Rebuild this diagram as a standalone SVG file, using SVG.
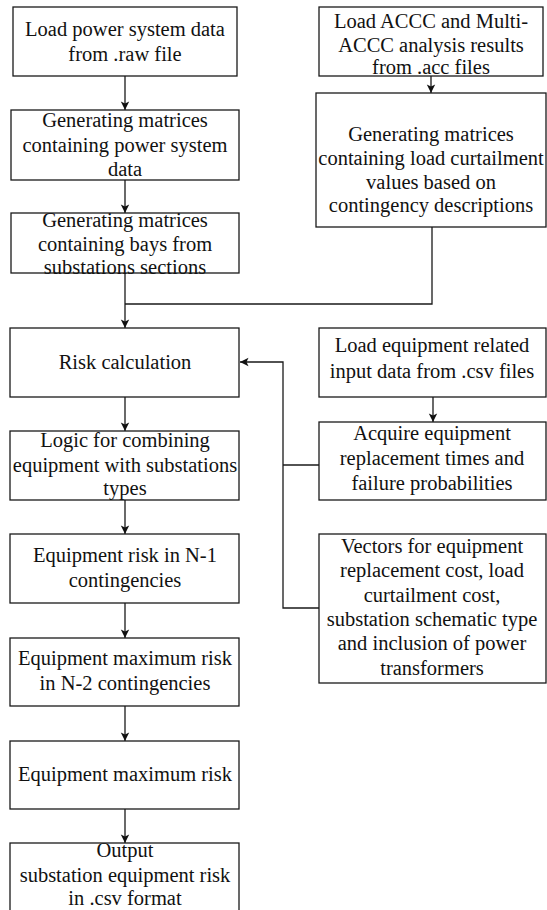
<svg xmlns="http://www.w3.org/2000/svg" width="547" height="910" viewBox="0 0 547 910">
  <style>
    .box { fill: #ffffff; stroke: #1a1a1a; stroke-width: 1.3; }
    .lbl { font-family: "Liberation Serif", "Times New Roman", serif; font-size: 20.5px; fill: #111111; text-anchor: middle; }
    .wire { fill: none; stroke: #1a1a1a; stroke-width: 1.3; }
  </style>
  <defs>
    <marker id="arrow" markerUnits="userSpaceOnUse" markerWidth="10" markerHeight="10" viewBox="-9 -5 10 10" refX="0" refY="0" orient="auto">
      <path d="M -8.5 -4.2 L 0 0 L -8.5 4.2 L -6.5 0 Z" fill="#111111"/>
    </marker>
  </defs>
  <rect width="547" height="910" fill="#ffffff"/>

  <!-- connectors -->
  <g id="connectors">
    <path class="wire" d="M 125 76 V 110" marker-end="url(#arrow)"/>
    <path class="wire" d="M 125 180 V 213" marker-end="url(#arrow)"/>
    <path class="wire" d="M 125 273 V 328" marker-end="url(#arrow)"/>
    <path class="wire" d="M 432 227 V 304 H 125"/>
    <path class="wire" d="M 125 397 V 431" marker-end="url(#arrow)"/>
    <path class="wire" d="M 125 500 V 534" marker-end="url(#arrow)"/>
    <path class="wire" d="M 125 603 V 638" marker-end="url(#arrow)"/>
    <path class="wire" d="M 125 706 V 741" marker-end="url(#arrow)"/>
    <path class="wire" d="M 125 809 V 843" marker-end="url(#arrow)"/>
    <path class="wire" d="M 431 76 V 93" marker-end="url(#arrow)"/>
    <path class="wire" d="M 433 397 V 422" marker-end="url(#arrow)"/>
    <path class="wire" d="M 319 465 H 283"/>
    <path class="wire" d="M 319 608 H 283 V 362 H 240" marker-end="url(#arrow)"/>
  </g>

  <!-- left column -->
  <g id="load-raw">
    <rect class="box" x="13" y="7" width="224" height="69"/>
    <text class="lbl" x="125" y="36">Load power system data</text>
    <text class="lbl" x="125" y="61">from .raw file</text>
  </g>
  <g id="matrices-power">
    <rect class="box" x="11" y="110" width="228" height="70"/>
    <text class="lbl" x="125" y="127">Generating matrices</text>
    <text class="lbl" x="125" y="152">containing power system</text>
    <text class="lbl" x="125" y="176">data</text>
  </g>
  <g id="matrices-bays">
    <rect class="box" x="11" y="213" width="228" height="60"/>
    <text class="lbl" x="125" y="227">Generating matrices</text>
    <text class="lbl" x="125" y="250.5">containing bays from</text>
    <text class="lbl" x="125" y="274">substations sections</text>
  </g>
  <g id="risk-calc">
    <rect class="box" x="10" y="328" width="229" height="69"/>
    <text class="lbl" x="125" y="369">Risk calculation</text>
  </g>
  <g id="logic">
    <rect class="box" x="10" y="431" width="229" height="69"/>
    <text class="lbl" x="125" y="447">Logic for combining</text>
    <text class="lbl" x="125" y="472">equipment with substations</text>
    <text class="lbl" x="125" y="495">types</text>
  </g>
  <g id="risk-n1">
    <rect class="box" x="10" y="534" width="229" height="69"/>
    <text class="lbl" x="125" y="562">Equipment risk in N-1</text>
    <text class="lbl" x="125" y="587">contingencies</text>
  </g>
  <g id="risk-n2">
    <rect class="box" x="10" y="638" width="229" height="68"/>
    <text class="lbl" x="125" y="665">Equipment maximum risk</text>
    <text class="lbl" x="125" y="690">in N-2 contingencies</text>
  </g>
  <g id="max-risk">
    <rect class="box" x="10" y="741" width="229" height="68"/>
    <text class="lbl" x="125" y="781">Equipment maximum risk</text>
  </g>
  <g id="output">
    <rect class="box" x="10" y="843" width="229" height="75"/>
    <text class="lbl" x="125" y="857">Output</text>
    <text class="lbl" x="125" y="882">substation equipment risk</text>
    <text class="lbl" x="125" y="905">in .csv format</text>
  </g>

  <!-- right column -->
  <g id="load-acc">
    <rect class="box" x="319" y="7" width="224" height="69"/>
    <text class="lbl" x="431" y="28">Load ACCC and Multi-</text>
    <text class="lbl" x="431" y="52">ACCC analysis results</text>
    <text class="lbl" x="431" y="74">from .acc files</text>
  </g>
  <g id="matrices-curtailment">
    <rect class="box" x="316" y="93" width="230" height="134"/>
    <text class="lbl" x="431" y="141">Generating matrices</text>
    <text class="lbl" x="431" y="165">containing load curtailment</text>
    <text class="lbl" x="431" y="189">values based on</text>
    <text class="lbl" x="431" y="212">contingency descriptions</text>
  </g>
  <g id="load-csv">
    <rect class="box" x="319" y="328" width="227" height="69"/>
    <text class="lbl" x="432" y="352">Load equipment related</text>
    <text class="lbl" x="432" y="378">input data from .csv files</text>
  </g>
  <g id="acquire">
    <rect class="box" x="319" y="422" width="227" height="78"/>
    <text class="lbl" x="432" y="440">Acquire equipment</text>
    <text class="lbl" x="432" y="465">replacement times and</text>
    <text class="lbl" x="432" y="490">failure probabilities</text>
  </g>
  <g id="vectors">
    <rect class="box" x="319" y="534" width="227" height="149"/>
    <text class="lbl" x="432" y="553">Vectors for equipment</text>
    <text class="lbl" x="432" y="577">replacement cost, load</text>
    <text class="lbl" x="432" y="602">curtailment cost,</text>
    <text class="lbl" x="432" y="626">substation schematic type</text>
    <text class="lbl" x="432" y="650">and inclusion of power</text>
    <text class="lbl" x="432" y="675">transformers</text>
  </g>
</svg>
